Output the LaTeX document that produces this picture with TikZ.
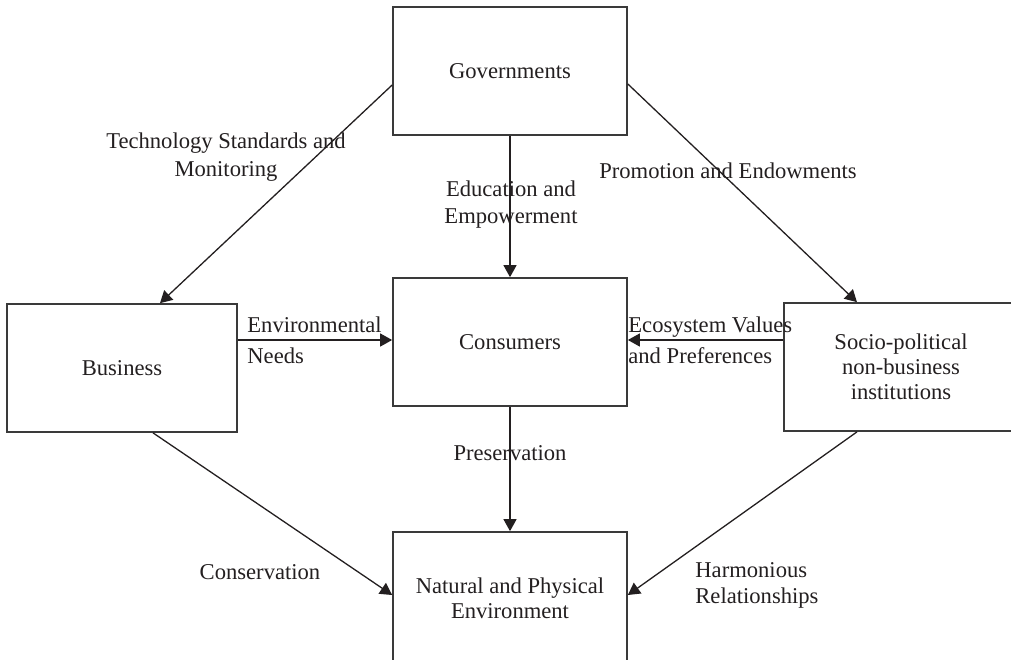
\documentclass[tikz,border=0pt]{standalone}
\usepackage{fontspec}
\setmainfont{Liberation Serif}
\usepackage{xcolor}
\usepackage{tikz}
\usetikzlibrary{arrows.meta, positioning, calc}
\definecolor{inkdark}{HTML}{231F20}
\definecolor{edgegray}{HTML}{3A3A3A}

\begin{document}
\begin{tikzpicture}[
    x=0.5pt, y=-0.5pt,
    box/.style={rectangle, draw=edgegray, line width=0.85pt, minimum width=117pt, minimum height=64pt, align=center, text=inkdark, font=\fontsize{11.3}{12.5}\selectfont},
    lbl/.style={inner sep=0pt, text=inkdark, font=\fontsize{11.3}{13.5}\selectfont},
    arrow/.style={-{Triangle[length=6pt, width=6.5pt]}, draw=inkdark, line width=0.65pt}
]

\clip (0,0) rectangle (1011,659);

% boxes
\node[box] (gov) at (510,71) {Governments};
\node[box] (cons) at (510,342) {Consumers};
\node[box, minimum width=115pt] (bus) at (122,368) {Business};
\node[box] (socio) at (901,367) {Socio-political\\non-business\\institutions};
\node[box, minimum height=66pt] (nature) at (510,598) {Natural and Physical\\Environment};

% connectors
\draw[arrow] ($(gov.west)+(0,14)$) -- ($(bus.north)+(38,0)$);
\draw[arrow] ($(gov.east)+(0,13)$) -- ($(socio.north)+(-44,0)$);
\draw[arrow] (gov.south) -- (cons.north);
\draw[arrow] ($(bus.east)+(0,-28)$) -- ($(cons.west)+(0,-2)$);
\draw[arrow] ($(socio.west)+(0,-27)$) -- ($(cons.east)+(0,-2)$);
\draw[arrow] (cons.south) -- (nature.north);
\draw[arrow] ($(bus.south)+(31,0)$) -- ($(nature.west)+(0,-3)$);
\draw[arrow] ($(socio.south)+(-44,0)$) -- ($(nature.east)+(0,-3)$);

% labels
\node[lbl, align=center, font=\fontsize{11.3}{14}\selectfont] (ltech) at (226,157) {Technology Standards and\\Monitoring};
\node[lbl, align=center] (ledu) at (511,205) {Education and\\Empowerment};
\node[lbl] (lprom) at (728,171) {Promotion and Endowments};
\node[lbl, align=left, anchor=west, font=\fontsize{11.3}{15.5}\selectfont] (lenv) at (247,340) {Environmental\\Needs};
\node[lbl, align=left, anchor=west, font=\fontsize{11.3}{15.5}\selectfont] (leco) at (628,340) {Ecosystem Values\\and Preferences};
\node[lbl] (lpres) at (510,453) {Preservation};
\node[lbl] (lcons) at (260,572) {Conservation};
\node[lbl, align=left, anchor=west, font=\fontsize{11.3}{13}\selectfont] (lharm) at (695,585) {Harmonious\\Relationships};

\end{tikzpicture}
\end{document}
